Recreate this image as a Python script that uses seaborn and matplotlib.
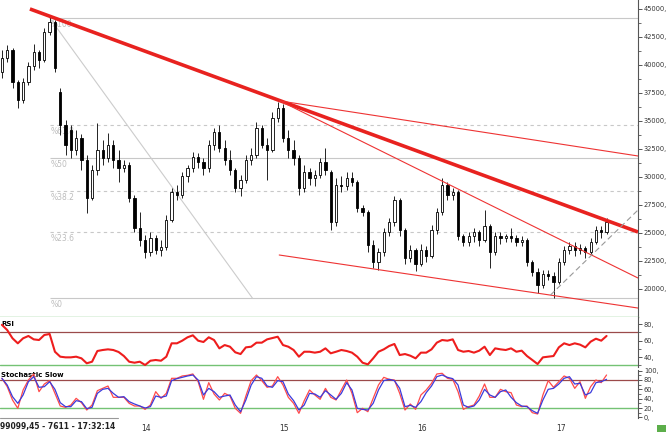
import numpy as np
import pandas as pd
import matplotlib
matplotlib.use("Agg")
import matplotlib.pyplot as plt
import matplotlib.transforms as mtrans
from matplotlib.lines import Line2D
from matplotlib.patches import Rectangle
from matplotlib.ticker import FixedLocator
import seaborn as sns

# ---------------- data ----------------
dates = pd.date_range("2013-01-06", periods=115, freq="14D")

opens = [39370, 40630, 41340, 38480, 36880, 38480, 39910, 41160, 40450, 42950,
         43840, 37590, 34640, 34200, 32410, 33480, 31520, 28120, 30620, 32410,
         31700, 32860, 31520, 30800, 31070, 28120, 25450, 24380, 23300, 24550,
         23480, 23750, 26160, 28660, 28390, 30090, 30800, 31780, 31340, 30800,
         32860, 34020, 32590, 31520, 30620, 29020, 29730, 31520, 31960, 34370,
         32860, 32410, 35270, 36160, 33480, 32410, 31700, 29020, 30450, 29910,
         30180, 31340, 30450, 25980, 29280, 29200, 29910, 29550, 27230, 26870,
         23930, 22410, 23300, 25090, 25980, 27950, 25270, 22770, 23480, 22230,
         23480, 22940, 25270, 26870, 29280, 28390, 28660, 24730, 24200, 24730,
         25090, 24380, 25620, 23300, 24730, 24550, 24730, 24550, 24200, 24380,
         22410, 21520, 20360, 21340, 21160, 20620, 22410, 23480, 23840, 23480,
         23660, 23300, 24200, 25270, 25090]
highs = [41340, 41790, 41520, 38660, 38840, 40270, 41870, 41340, 43300, 44460,
         44020, 37950, 35090, 34640, 34200, 33840, 31960, 31070, 34820, 33300,
         33930, 33300, 32410, 31520, 31340, 28390, 26870, 24820, 25090, 24820,
         24380, 26610, 29020, 29280, 30450, 31070, 32230, 32140, 31700, 33300,
         34370, 34640, 33300, 32410, 30800, 30180, 31960, 32590, 34910, 34640,
         33480, 35800, 36700, 36520, 34200, 33300, 31960, 31070, 30800, 30620,
         31700, 32590, 30620, 29910, 30090, 30450, 30450, 29730, 27500, 27050,
         24380, 23660, 25450, 26340, 28300, 28120, 25450, 23930, 23660, 24020,
         23840, 25710, 27230, 29910, 29550, 29020, 28840, 24910, 25090, 25450,
         25270, 27050, 25800, 25090, 25090, 24910, 25450, 24820, 24730, 24550,
         22590, 21880, 21700, 21700, 21520, 22770, 23840, 24200, 24200, 24020,
         23840, 24550, 25620, 25620, 26340]
lows = [38840, 40270, 37950, 36160, 36610, 38210, 39550, 39730, 40270, 42680,
        39370, 33750, 31960, 31700, 31960, 30620, 26780, 27950, 30180, 31070,
        31340, 30800, 29550, 30450, 27770, 25090, 23840, 22770, 22940, 23120,
        22940, 23480, 25980, 27950, 28120, 29550, 30450, 30800, 30180, 30450,
        32410, 32230, 31070, 30180, 28660, 28300, 29460, 31070, 31700, 32590,
        29730, 32230, 34910, 33120, 31700, 31070, 28390, 28660, 29280, 29200,
        29910, 30180, 25270, 25620, 28660, 28840, 29200, 26870, 26520, 23300,
        21880, 21700, 22940, 24730, 25620, 24730, 22230, 22410, 21610, 22050,
        22410, 22770, 24910, 26610, 27950, 27950, 24380, 23840, 23840, 24200,
        23840, 24200, 21880, 23030, 24020, 24200, 24200, 23840, 23840, 22050,
        21160, 19640, 20090, 20800, 19200, 20450, 22140, 23120, 22940, 23120,
        22770, 23120, 24020, 24550, 24910]
closes = [40630, 41340, 38480, 36880, 38480, 39910, 41160, 40450, 42950, 43840,
          39730, 34640, 32860, 32410, 33480, 31520, 28120, 30620, 32410, 31700,
          32860, 31520, 30800, 31070, 28120, 25450, 24380, 23300, 24550, 23480,
          23750, 26160, 28660, 28390, 30090, 30800, 31780, 31340, 30800, 32860,
          34020, 32590, 31520, 30620, 29020, 29730, 31520, 31960, 34370, 32860,
          32410, 35270, 36160, 33480, 32410, 31700, 29020, 30450, 29910, 30180,
          31340, 30620, 25980, 29280, 29200, 29910, 29550, 27230, 26870, 23930,
          22410, 23300, 25090, 25980, 27950, 25270, 22770, 23480, 22230, 23480,
          22940, 25270, 26870, 29280, 28390, 28660, 24730, 24200, 24730, 25090,
          24380, 25620, 23300, 24730, 24550, 24730, 24550, 24200, 24380, 22410,
          21520, 20360, 21340, 21160, 20620, 22410, 23480, 23840, 23480, 23660,
          23300, 24200, 25270, 25090, 25980]

rsi = [79, 72.7, 62.7, 56.6, 62.7, 65.5, 61.4, 60.6, 66.7, 67.9,
       46.4, 40.4, 39.6, 39.6, 40.4, 38.4, 32.4, 34.3, 47.3, 48.5,
       49.3, 48.5, 46.1, 41.2, 34.3, 33.1, 34.3, 30.3, 35.5, 36.4,
       35.5, 40.4, 56.6, 56.6, 59.8, 63.9, 66.3, 59.8, 58.2, 63.9,
       60.6, 50.5, 54.5, 52.5, 45.7, 43.6, 51.7, 52.5, 57.4, 57.4,
       61.4, 63.0, 64.6, 54.5, 52.5, 48.5, 40.4, 46.4, 46.4, 45.3,
       46.4, 50.5, 44.5, 46.4, 48.5, 47.3, 45.3, 40.4, 33.1, 31.1,
       38.4, 46.4, 49.3, 53.3, 55.8, 42.4, 43.6, 41.6, 38.4, 45.3,
       45.3, 49.3, 57.4, 60.6, 59.8, 61.4, 48.5, 46.4, 47.3, 45.3,
       47.7, 52.5, 42.4, 50.5, 49.3, 48.5, 50.5, 46.4, 47.7, 41.2,
       36.4, 31.5, 39.6, 40.4, 41.2, 51.7, 56.6, 54.5, 56.6, 55.0,
       51.7, 58.6, 62.2, 59.8, 65.5]

stoch_k = [83.6, 65.7, 37.2, 19.3, 58.6, 80, 92.9, 55, 71.4, 78.6,
           51.4, 24.3, 21.4, 26.4, 40.7, 31.4, 15.7, 26.4, 57.1, 62.1,
           67.1, 42.9, 42.9, 42.9, 30, 24.3, 24.3, 17.1, 26.4, 55,
           40.7, 51.4, 83.6, 83.6, 88.6, 90, 92.9, 76.4, 38.6, 74.3,
           50, 37.2, 51.4, 45.7, 19.3, 8.6, 45.7, 78.6, 90.7, 78.6,
           64.3, 67.1, 87.1, 69.3, 42.9, 30, 8.6, 35.7, 58.6, 47.9,
           38.6, 62.1, 42.9, 37.2, 58.6, 80, 51.4, 10, 19.3, 12.1,
           40.7, 69.3, 85.7, 81.4, 80, 51.4, 15.7, 28.6, 17.1, 47.9,
           58.6, 72.9, 92.9, 94.3, 83.6, 81.4, 55, 17.1, 22.9, 26.4,
           45.7, 71.4, 42.9, 42.9, 60, 55, 52.9, 26.4, 22.9, 24.3,
           10, 7.1, 47.9, 78.6, 64.3, 76.4, 88.6, 83.6, 62.1, 76.4,
           40.7, 65.7, 80, 74.3, 90.7]
stoch_d = [83.6, 69.3, 44.3, 30, 47.9, 76.4, 87.1, 64.3, 65.7, 76.4,
           60, 31.4, 22.9, 22.9, 35.7, 33.6, 18.6, 21.4, 51.4, 60,
           62.1, 51.4, 42.9, 44.3, 33.6, 28.6, 24.3, 20, 22.9, 45.7,
           42.9, 45.7, 78.6, 82.9, 85.7, 88.6, 90.7, 80, 47.9, 62.1,
           55, 42.9, 45.7, 47.9, 26.4, 12.1, 37.2, 69.3, 87.1, 83.6,
           67.1, 64.3, 78.6, 76.4, 50, 35.7, 15.7, 26.4, 51.4, 50,
           42.9, 57.1, 47.9, 38.6, 51.4, 74.3, 58.6, 19.3, 17.1, 15.7,
           30, 58.6, 78.6, 81.4, 78.6, 62.1, 22.9, 25.7, 21.4, 33.6,
           52.9, 67.1, 87.1, 90.7, 85.7, 82.9, 69.3, 26.4, 21.4, 24.3,
           37.2, 60, 47.9, 42.9, 55, 58.6, 42.9, 31.4, 24.3, 22.9,
           14.3, 8.6, 37.2, 60, 62.1, 71.4, 83.6, 87.1, 71.4, 72.9,
           47.9, 52.9, 74.3, 76.4, 81.4]

# Fibonacci retracement
fib_low, fib_high = 19200, 44200
fib_pcts = [0, 23.6, 38.2, 50, 61.8, 100]
fib_labels = ["%0", "%23.6", "%38.2", "%50", "%61.8", "%100"]
fib_dashed = [False, True, True, False, True, False]
fib_start = "2013-05-12"
fib_diag = (["2013-05-12", "2014-10-29"], [44200, 19200])

# trend lines: (dates, prices)
trend_main = (["2013-03-21", "2017-08-12"], [45000, 25090])
trend_upper = (["2015-01-10", "2017-08-12"], [36790, 31875])
trend_steep = (["2015-01-10", "2017-08-12"], [36790, 20980])
trend_lower = (["2015-01-08", "2017-08-12"], [23035, 18300])
trend_rise = (["2016-12-24", "2017-08-12"], [19460, 27050])

year_ticks = ["2014-01-01", "2015-01-01", "2016-01-01", "2017-01-01"]
year_labels = ["14", "15", "16", "17"]
price_ticks = [20000, 22500, 25000, 27500, 30000, 32500, 35000, 37500, 40000, 42500, 45000]
rsi_ticks = [40, 60, 80]
stoch_ticks = [0, 20, 40, 60, 80, 100]
status_text = "99099,45 - 7611 - 17:32:14"

# ---------------- style ----------------
sns.set_style("white")
plt.rcParams["font.family"] = ["DejaVu Sans"]

fig = plt.figure(figsize=(6.66, 4.32), dpi=100)
W = 638 / 666
ax = fig.add_axes([0, 1 - 317 / 432, W, 317 / 432])
ax_rsi = fig.add_axes([0, 1 - 367 / 432, W, 50 / 432], sharex=ax)
ax_st = fig.add_axes([0, 1 - 418 / 432, W, 48 / 432], sharex=ax)

xmin, xmax = pd.Timestamp("2013-01-01"), pd.Timestamp("2017-08-12")
lbl_color = "#333333"
green = "#74c274"
brown = "#9b4a4a"

# ---------------- main panel ----------------
o = np.array(opens, float)
c = np.array(closes, float)
up = c >= o
ax.vlines(dates, lows, highs, color="black", lw=0.6, zorder=3)
ax.bar(dates[up], (c - o)[up], bottom=o[up], width=6, color="white",
       edgecolor="black", lw=0.6, zorder=4)
ax.bar(dates[~up], (o - c)[~up], bottom=c[~up], width=6, color="black",
       edgecolor="black", lw=0.6, zorder=4)

for p, lab, dsh in zip(fib_pcts, fib_labels, fib_dashed):
    lvl = fib_low + p / 100 * (fib_high - fib_low)
    ax.hlines(lvl, pd.Timestamp(fib_start), xmax, color="#c8c8c8",
              lw=0.8, ls=(0, (3, 3)) if dsh else "-", zorder=1)
    ax.text(pd.Timestamp(fib_start) + pd.Timedelta(days=3), lvl - 150, lab,
            fontsize=5.5, color="#bdbdbd", va="top", ha="left", zorder=1)

ax.plot(pd.to_datetime(fib_diag[0]), fib_diag[1], color="#cccccc", lw=0.8, zorder=1)
ax.plot(pd.to_datetime(trend_main[0]), trend_main[1], color="#e8221f", lw=2.6,
        zorder=5, solid_capstyle="butt")
for tl in (trend_upper, trend_steep, trend_lower):
    ax.plot(pd.to_datetime(tl[0]), tl[1], color="#ee3333", lw=0.8, zorder=5)
ax.plot(pd.to_datetime(trend_rise[0]), trend_rise[1], color="#999999", lw=0.8,
        ls=(0, (5, 3)), zorder=5)

ax.set_xlim(xmin, xmax)
ax.set_ylim(17500, 45800)
ax.yaxis.tick_right()
ax.yaxis.set_major_locator(FixedLocator(price_ticks))
ax.yaxis.set_minor_locator(FixedLocator([v + 1250 for v in price_ticks]))
ax.set_yticklabels([f"{v}," for v in price_ticks])

# ---------------- RSI panel ----------------
df = pd.DataFrame({"date": dates, "rsi": rsi, "k": stoch_k, "d": stoch_d})
sns.lineplot(data=df, x="date", y="rsi", ax=ax_rsi, color="#ee1d1d", lw=1.5, zorder=4)
ax_rsi.axhline(70, color=brown, lw=0.9, zorder=2)
ax_rsi.axhline(30, color=green, lw=1.0, zorder=2)
ax_rsi.set_ylim(27.9, 88.5)
ax_rsi.yaxis.tick_right()
ax_rsi.yaxis.set_major_locator(FixedLocator(rsi_ticks))
ax_rsi.yaxis.set_minor_locator(FixedLocator([30, 50, 70]))
ax_rsi.set_yticklabels([f"{v}," for v in rsi_ticks])
ax_rsi.text(0.002, 0.93, "RSI", transform=ax_rsi.transAxes, fontsize=5,
            weight="bold", va="top", ha="left", color="black")

# ---------------- Stochastic panel ----------------
sns.lineplot(data=df, x="date", y="k", ax=ax_st, color="#ff4a4a", lw=0.9, zorder=4)
sns.lineplot(data=df, x="date", y="d", ax=ax_st, color="#3b3bdc", lw=0.9, zorder=5)
ax_st.axhline(80, color=brown, lw=0.9, zorder=2)
ax_st.axhline(20, color=green, lw=1.0, zorder=2)
ax_st.set_ylim(-1.4, 101.4)
ax_st.yaxis.tick_right()
ax_st.yaxis.set_major_locator(FixedLocator(stoch_ticks))
ax_st.yaxis.set_minor_locator(FixedLocator([10, 30, 50, 70, 90]))
ax_st.set_yticklabels([f"{v}," for v in stoch_ticks])
ax_st.text(0.002, 0.96, "Stochastic Slow", transform=ax_st.transAxes, fontsize=5,
           weight="bold", va="top", ha="left", color="black")

# ---------------- common axis styling ----------------
for a in (ax, ax_rsi, ax_st):
    a.set_xlabel("")
    a.set_ylabel("")
    for s in ("top", "left", "bottom"):
        a.spines[s].set_visible(False)
    a.spines["right"].set_color("#555555")
    a.spines["right"].set_linewidth(0.8)
    a.tick_params(axis="y", which="major", direction="out", length=3, width=0.7,
                  colors="#555555", labelcolor=lbl_color, labelsize=4.8, pad=1.2)
    a.tick_params(axis="y", which="minor", direction="out", length=2, width=0.6,
                  colors="#555555")
    a.set_facecolor("white")

ax.spines["bottom"].set_visible(True)
ax.spines["bottom"].set_color(green)
ax.spines["bottom"].set_linewidth(1.0)

for a in (ax, ax_rsi):
    a.tick_params(axis="x", bottom=False, labelbottom=False)

ax_st.set_xticks(pd.to_datetime(year_ticks))
ax_st.set_xticklabels(year_labels)
ax_st.tick_params(axis="x", direction="out", length=10, width=0.8,
                  colors="#666666", labelcolor=lbl_color, labelsize=5.5, pad=-6)
offset = mtrans.ScaledTranslation(2 / 72, 0, fig.dpi_scale_trans)
for lab in ax_st.get_xticklabels():
    lab.set_ha("left")
    lab.set_transform(lab.get_transform() + offset)

# status bar
fig.add_artist(Line2D([0, 118 / 666], [1 - 418 / 432] * 2, color="#999999", lw=0.8))
fig.text(0.0, 1 - 426 / 432, status_text, fontsize=5.5, weight="bold",
         color="#222222", va="center", ha="left")
fig.add_artist(Rectangle((657 / 666, 0), 9 / 666, 7 / 432, transform=fig.transFigure,
                         facecolor="#5cae4a", edgecolor="none"))

fig.savefig("out.png", dpi=100)
